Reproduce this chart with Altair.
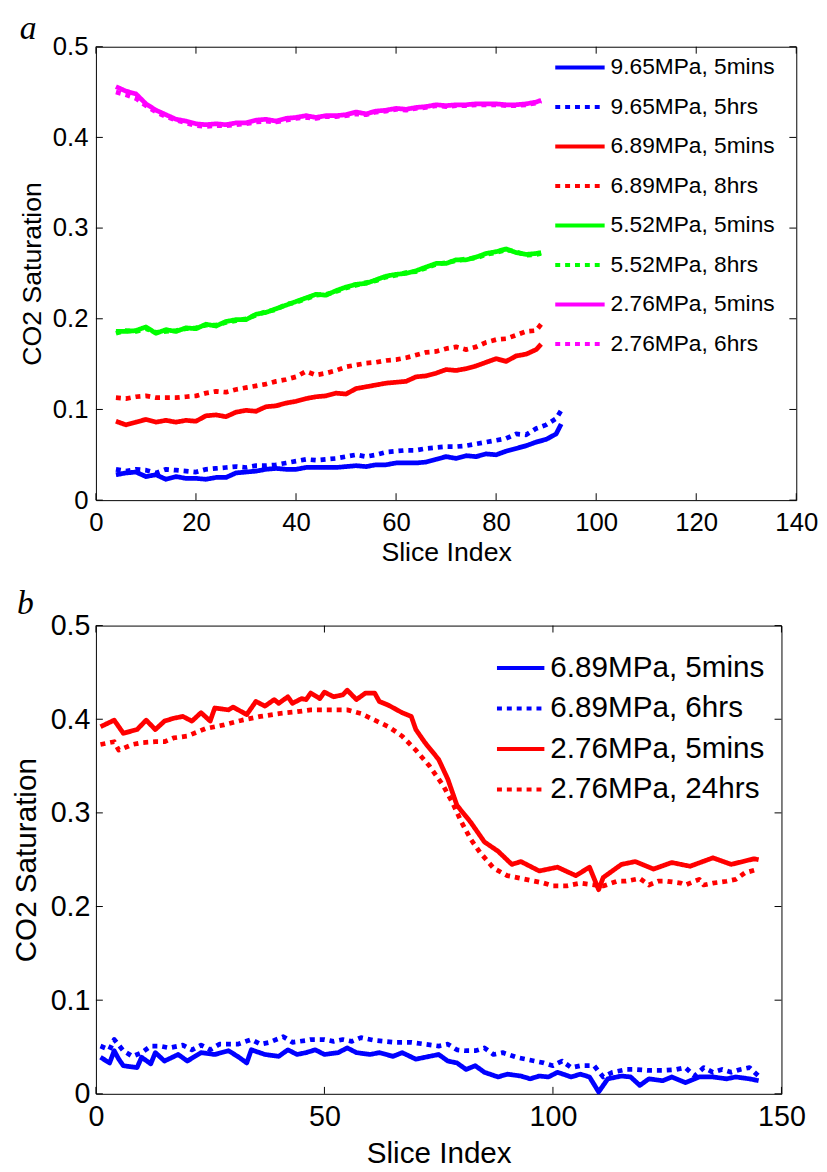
import altair as alt
import pandas as pd

FONT = "Liberation Sans"

# ---------------- Panel a ----------------
a_labels = ["9.65MPa, 5mins", "9.65MPa, 5hrs", "6.89MPa, 5mins", "6.89MPa, 8hrs",
            "5.52MPa, 5mins", "5.52MPa, 8hrs", "2.76MPa, 5mins", "2.76MPa, 6hrs"]
a_colors = ["#0000ff", "#0000ff", "#ff0000", "#ff0000",
            "#00ff00", "#00ff00", "#ff00ff", "#ff00ff"]
a_xticks = [0, 20, 40, 60, 80, 100, 120, 140]
yticks = [0, 0.1, 0.2, 0.3, 0.4, 0.5]

a_x = list(range(4, 89, 2)) + [89]
a_x_blue = list(range(4, 93, 2)) + [93]

a_965_5min = [0.028, 0.030, 0.031, 0.026, 0.028, 0.023, 0.026, 0.024, 0.024, 0.023,
              0.025, 0.025, 0.030, 0.031, 0.032, 0.034, 0.035, 0.034, 0.034, 0.036,
              0.036, 0.036, 0.036, 0.037, 0.038, 0.037, 0.039, 0.039, 0.041, 0.041,
              0.041, 0.042, 0.045, 0.048, 0.046, 0.049, 0.048, 0.051, 0.050, 0.054,
              0.057, 0.060, 0.064, 0.067, 0.073, 0.084]
a_965_5hrs = [0.034, 0.032, 0.034, 0.033, 0.030, 0.034, 0.033, 0.032, 0.031, 0.034,
              0.035, 0.036, 0.037, 0.036, 0.038, 0.038, 0.039, 0.041, 0.043, 0.045,
              0.044, 0.045, 0.046, 0.048, 0.050, 0.048, 0.050, 0.053, 0.054, 0.055,
              0.055, 0.057, 0.058, 0.059, 0.059, 0.060, 0.062, 0.064, 0.066, 0.068,
              0.073, 0.072, 0.079, 0.083, 0.090, 0.099]
a_689_5min = [0.087, 0.083, 0.086, 0.089, 0.086, 0.088, 0.086, 0.088, 0.087, 0.093,
              0.094, 0.092, 0.097, 0.099, 0.098, 0.103, 0.104, 0.107, 0.109, 0.112,
              0.114, 0.115, 0.118, 0.117, 0.123, 0.125, 0.127, 0.129, 0.130, 0.131,
              0.136, 0.137, 0.140, 0.144, 0.143, 0.145, 0.148, 0.152, 0.156, 0.153,
              0.159, 0.161, 0.166, 0.172]
a_689_8hrs = [0.113, 0.112, 0.114, 0.115, 0.113, 0.113, 0.113, 0.114, 0.115, 0.118,
              0.120, 0.119, 0.122, 0.124, 0.126, 0.128, 0.131, 0.133, 0.136, 0.142,
              0.138, 0.140, 0.143, 0.147, 0.149, 0.151, 0.152, 0.154, 0.155, 0.157,
              0.160, 0.163, 0.164, 0.167, 0.169, 0.166, 0.169, 0.174, 0.177, 0.178,
              0.182, 0.186, 0.187, 0.194]
a_552_5min = [0.186, 0.186, 0.187, 0.191, 0.184, 0.188, 0.186, 0.190, 0.189, 0.194,
              0.192, 0.197, 0.199, 0.199, 0.205, 0.207, 0.211, 0.215, 0.219, 0.223,
              0.227, 0.226, 0.231, 0.235, 0.238, 0.239, 0.243, 0.247, 0.249, 0.250,
              0.253, 0.257, 0.261, 0.261, 0.265, 0.265, 0.268, 0.272, 0.274, 0.277,
              0.273, 0.271, 0.272, 0.273]
a_552_8hrs = [0.184, 0.187, 0.186, 0.189, 0.185, 0.186, 0.187, 0.189, 0.190, 0.193,
              0.193, 0.196, 0.198, 0.200, 0.204, 0.208, 0.210, 0.216, 0.218, 0.222,
              0.226, 0.227, 0.230, 0.234, 0.237, 0.240, 0.242, 0.246, 0.248, 0.251,
              0.252, 0.256, 0.260, 0.262, 0.264, 0.266, 0.267, 0.271, 0.273, 0.276,
              0.274, 0.270, 0.271, 0.272]
a_276_5min = [0.456, 0.451, 0.448, 0.437, 0.430, 0.425, 0.420, 0.418, 0.415, 0.414,
              0.415, 0.414, 0.416, 0.416, 0.419, 0.420, 0.418, 0.421, 0.422, 0.424,
              0.422, 0.424, 0.424, 0.425, 0.428, 0.426, 0.429, 0.430, 0.432, 0.431,
              0.433, 0.434, 0.436, 0.435, 0.436, 0.436, 0.437, 0.437, 0.437, 0.436,
              0.436, 0.437, 0.439, 0.441]
a_276_6hrs = [0.450, 0.447, 0.443, 0.435, 0.428, 0.423, 0.419, 0.416, 0.413, 0.412,
              0.413, 0.413, 0.414, 0.415, 0.417, 0.418, 0.417, 0.419, 0.421, 0.422,
              0.421, 0.423, 0.423, 0.424, 0.426, 0.425, 0.428, 0.429, 0.431, 0.430,
              0.432, 0.433, 0.435, 0.434, 0.435, 0.435, 0.436, 0.436, 0.436, 0.435,
              0.435, 0.436, 0.438, 0.440]

# ---------------- Panel b ----------------
b_labels = ["6.89MPa, 5mins", "6.89MPa, 6hrs", "2.76MPa, 5mins", "2.76MPa, 24hrs"]
b_colors = ["#0000ff", "#0000ff", "#ff0000", "#ff0000"]
b_xticks = [0, 50, 100, 150]

b_689_5min_x = [1, 3, 4, 5, 6, 9, 10, 12, 13, 15, 18, 20, 23, 26, 29, 31, 33, 34, 37, 40,
                42, 44, 46, 48, 50, 53, 55, 57, 60, 62, 65, 67, 70, 72, 75, 77, 79, 81, 83, 85,
                88, 90, 93, 95, 97, 99, 101, 104, 106, 108, 110, 112, 115, 117, 119, 121, 124,
                126, 129, 132, 135, 138, 140, 143, 145]
b_689_5min_y = [0.039, 0.033, 0.046, 0.037, 0.030, 0.028, 0.039, 0.032, 0.044, 0.035,
                0.042, 0.035, 0.044, 0.042, 0.046, 0.040, 0.033, 0.047, 0.042, 0.040,
                0.047, 0.042, 0.044, 0.047, 0.042, 0.044, 0.049, 0.044, 0.042, 0.044,
                0.040, 0.044, 0.037, 0.039, 0.042, 0.035, 0.033, 0.026, 0.030, 0.023,
                0.018, 0.021, 0.019, 0.016, 0.019, 0.018, 0.023, 0.018, 0.021, 0.018,
                0.002, 0.016, 0.019, 0.018, 0.009, 0.016, 0.014, 0.018, 0.012, 0.018,
                0.018, 0.016, 0.018, 0.016, 0.014]
b_689_6hrs_x = [1, 3, 4, 6, 8, 10, 12, 14, 16, 19, 21, 23, 25, 27, 29, 31, 34, 36, 38, 41,
                43, 46, 47, 50, 52, 54, 56, 58, 61, 63, 65, 67, 69, 72, 75, 77, 79, 81, 83, 85,
                87, 89, 92, 94, 96, 98, 100, 102, 104, 106, 109, 111, 113, 116, 118, 121, 124,
                127, 129, 131, 133, 135, 137, 139, 141, 143, 145]
b_689_6hrs_y = [0.051, 0.047, 0.058, 0.046, 0.040, 0.044, 0.051, 0.051, 0.049, 0.052,
                0.047, 0.052, 0.047, 0.053, 0.053, 0.053, 0.058, 0.053, 0.055, 0.061,
                0.055, 0.057, 0.058, 0.058, 0.056, 0.058, 0.056, 0.060, 0.057, 0.056,
                0.055, 0.055, 0.055, 0.053, 0.051, 0.053, 0.047, 0.046, 0.046, 0.049,
                0.042, 0.044, 0.039, 0.037, 0.035, 0.033, 0.030, 0.035, 0.028, 0.030,
                0.030, 0.018, 0.023, 0.026, 0.026, 0.025, 0.025, 0.026, 0.028, 0.019,
                0.028, 0.023, 0.026, 0.023, 0.026, 0.028, 0.019]
b_276_5min_x = [1, 4, 6, 9, 11, 13, 15, 17, 19, 21, 23, 25, 26, 29, 30, 33, 35, 37, 39, 40,
                42, 43, 45, 46, 47, 49, 50, 52, 54, 55, 57, 59, 61, 62, 64, 67, 69, 70, 72, 75,
                77, 79, 82, 85, 88, 91, 93, 97, 101, 105, 108, 110, 111, 115, 118, 122, 126,
                130, 135, 139, 144, 145]
b_276_5min_y = [0.392, 0.399, 0.385, 0.389, 0.399, 0.389, 0.398, 0.401, 0.403, 0.398,
                0.407, 0.398, 0.412, 0.410, 0.413, 0.405, 0.419, 0.414, 0.421, 0.417,
                0.424, 0.417, 0.422, 0.421, 0.428, 0.422, 0.429, 0.424, 0.426, 0.431,
                0.421, 0.428, 0.428, 0.419, 0.415, 0.407, 0.403, 0.389, 0.375, 0.357,
                0.336, 0.308, 0.290, 0.269, 0.259, 0.245, 0.248, 0.238, 0.242, 0.233,
                0.242, 0.218, 0.231, 0.245, 0.248, 0.240, 0.247, 0.243, 0.252, 0.245,
                0.251, 0.250]
b_276_24hrs_x = [1, 4, 5, 8, 10, 13, 15, 17, 20, 24, 28, 32, 36, 40, 44, 47, 51, 55, 58, 61,
                 64, 67, 70, 73, 76, 78, 80, 82, 84, 87, 90, 94, 98, 100, 103, 106, 109, 111,
                 114, 116, 119, 121, 123, 125, 128, 129, 132, 133, 135, 138, 140, 142, 145]
b_276_24hrs_y = [0.373, 0.376, 0.367, 0.373, 0.375, 0.376, 0.376, 0.380, 0.382, 0.390,
                 0.394, 0.399, 0.403, 0.406, 0.408, 0.410, 0.410, 0.410, 0.406, 0.399,
                 0.392, 0.382, 0.367, 0.350, 0.329, 0.311, 0.290, 0.272, 0.258, 0.241,
                 0.233, 0.229, 0.225, 0.222, 0.222, 0.225, 0.223, 0.222, 0.227, 0.227,
                 0.230, 0.223, 0.227, 0.227, 0.225, 0.223, 0.229, 0.223, 0.225, 0.227,
                 0.229, 0.236, 0.240]


def long_df(series):
    rows = []
    for label, xs, ys in series:
        for xv, yv in zip(xs, ys):
            rows.append({"x": xv, "y": yv, "series": label})
    return pd.DataFrame(rows)


df_a = long_df([
    (a_labels[0], a_x_blue, a_965_5min),
    (a_labels[1], a_x_blue, a_965_5hrs),
    (a_labels[2], a_x, a_689_5min),
    (a_labels[3], a_x, a_689_8hrs),
    (a_labels[4], a_x, a_552_5min),
    (a_labels[5], a_x, a_552_8hrs),
    (a_labels[6], a_x, a_276_5min),
    (a_labels[7], a_x, a_276_6hrs),
])
df_b = long_df([
    (b_labels[0], b_689_5min_x, b_689_5min_y),
    (b_labels[1], b_689_6hrs_x, b_689_6hrs_y),
    (b_labels[2], b_276_5min_x, b_276_5min_y),
    (b_labels[3], b_276_24hrs_x, b_276_24hrs_y),
])


def make_panel(df, labels, colors, xmax, xticks, W, H, fs_tick, fs_title, fs_leg,
               leg_x, leg_y, row_pad, sym_len, letter, let_x, let_y,
               lab_pad_x, lab_pad_y, ttl_pad_x, ttl_pad_y):
    dashes = [[1, 0] if "5mins" in l else [5, 5] for l in labels]
    legend = alt.Legend(title=None, orient="none", legendX=leg_x, legendY=leg_y,
                        symbolType="stroke", symbolSize=sym_len ** 2, symbolStrokeWidth=4,
                        labelFontSize=fs_leg, labelFont=FONT, labelColor="black",
                        labelLimit=600, rowPadding=row_pad, labelOffset=4, padding=0)
    common = dict(labelFont=FONT, labelFontSize=fs_tick, labelColor="black",
                  titleFont=FONT, titleFontSize=fs_title, titleFontWeight="normal",
                  titleColor="black", grid=False, domain=False, ticks=False, tickSize=0,
                  labelFlush=False)
    lines = alt.Chart(df).mark_line(strokeWidth=4.8, strokeCap="butt", strokeJoin="round").encode(
        x=alt.X("x:Q", scale=alt.Scale(domain=[0, xmax], nice=False, zero=False),
                axis=alt.Axis(values=xticks, format="d", title="Slice Index",
                              labelPadding=lab_pad_x, titlePadding=ttl_pad_x, **common)),
        y=alt.Y("y:Q", scale=alt.Scale(domain=[0, 0.5], nice=False),
                axis=alt.Axis(values=yticks, format=".1~f", title="CO2 Saturation",
                              labelPadding=lab_pad_y, titlePadding=ttl_pad_y, **common)),
        color=alt.Color("series:N", scale=alt.Scale(domain=labels, range=colors), legend=legend),
        strokeDash=alt.StrokeDash("series:N", scale=alt.Scale(domain=labels, range=dashes),
                                  legend=legend),
    )
    tl = 7
    xt_df = pd.DataFrame({"x": xticks})
    yt_df = pd.DataFrame({"y": yticks})
    tick_style = dict(color="black", strokeWidth=1)
    xb = alt.Chart(xt_df).mark_rule(**tick_style).encode(
        x="x:Q", y=alt.value(H), y2=alt.value(H - tl))
    xtop = alt.Chart(xt_df).mark_rule(**tick_style).encode(
        x="x:Q", y=alt.value(0), y2=alt.value(tl))
    yl = alt.Chart(yt_df).mark_rule(**tick_style).encode(
        y="y:Q", x=alt.value(0), x2=alt.value(tl))
    yr = alt.Chart(yt_df).mark_rule(**tick_style).encode(
        y="y:Q", x=alt.value(W), x2=alt.value(W - tl))
    letter_mark = alt.Chart(pd.DataFrame({"t": [letter]})).mark_text(
        font="Liberation Serif", fontStyle="italic", fontSize=34, color="black",
        align="left", baseline="alphabetic"
    ).encode(text="t:N", x=alt.value(let_x), y=alt.value(let_y))
    return alt.layer(lines, xb, xtop, yl, yr, letter_mark).properties(width=W, height=H)


panel_a = make_panel(df_a, a_labels, a_colors, 140, a_xticks, 709, 459,
                     fs_tick=26, fs_title=27, fs_leg=23,
                     leg_x=463, leg_y=-6, row_pad=1, sym_len=50,
                     letter="a", let_x=-77, let_y=-8,
                     lab_pad_x=10, lab_pad_y=8, ttl_pad_x=4, ttl_pad_y=6)
panel_b = make_panel(df_b, b_labels, b_colors, 150, b_xticks, 694, 474,
                     fs_tick=29, fs_title=30, fs_leg=30,
                     leg_x=404, leg_y=17, row_pad=0, sym_len=48,
                     letter="b", let_x=-80, let_y=-12,
                     lab_pad_x=9, lab_pad_y=6, ttl_pad_x=8, ttl_pad_y=9)

chart = alt.vconcat(panel_a, panel_b, spacing=20).resolve_scale(
    color="independent", strokeDash="independent"
).properties(
    padding={"left": 3, "top": -4, "right": 0, "bottom": 0}
).configure_view(stroke="black", strokeWidth=1)

chart.save("out.html", embed_options={"renderer": "svg", "actions": False})
